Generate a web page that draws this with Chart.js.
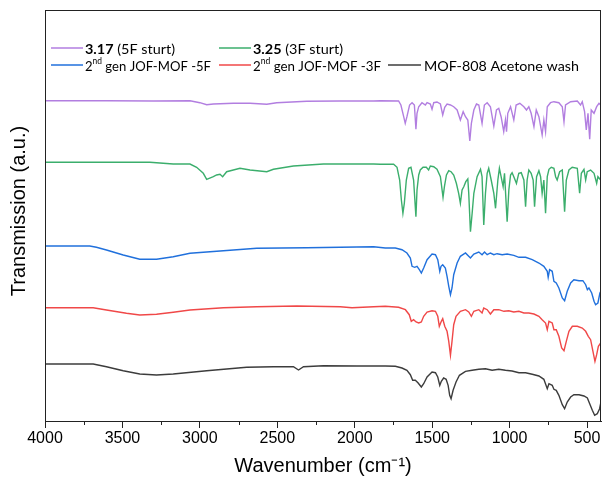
<!DOCTYPE html>
<html>
<head>
<meta charset="utf-8">
<title>FTIR spectra</title>
<script src="https://cdn.jsdelivr.net/npm/chart.js@4.4.1/dist/chart.umd.min.js"></script>
<style>
  html, body { margin: 0; padding: 0; background: #ffffff; }
  #wrap { width: 602px; height: 485px; }
</style>
</head>
<body>
<div id="wrap"><canvas id="chart" width="602" height="485"></canvas></div>
<script>
// FTIR spectra, stacked with vertical offsets (arbitrary transmission units).
// Each series is a list of [wavenumber (cm-1), transmission (a.u.)] pairs.

const spec317 = [
  [4000,320.3],[3600,320.3],[3300,320],[3064,320.3],[3000,318.3],[2956,316.3],[2913,317],[2784,317.7],
  [2676,317.7],[2568,316.7],[2504,318.3],[2310,319.7],[2100,320],[1878,320],
  [1835,320.3],[1717,320],[1702,316],[1684,304.3],[1674,297.7],[1663,304.3],[1646,316],[1630,318.3],
  [1615,316],[1605,291.7],[1598,307.7],[1587,314.3],[1566,318.3],[1544,316],[1533,318.3],[1512,317],
  [1501,311.7],[1490,318.3],[1469,319],[1447,317],[1432,306],[1419,313.7],[1404,317],[1382,316],
  [1361,314.3],[1339,311],[1318,301],[1300,309.3],[1285,304.3],[1270,301],[1257,280],[1247,297.7],
  [1231,311],[1214,317],[1199,316],[1178,297.7],[1163,316],[1145,318.3],[1124,314.3],[1102,295],
  [1085,311],[1070,312.7],[1055,304.3],[1038,289.3],[1027,301],[1020,289.3],[1012,307.7],[994,314.3],
  [973,301],[958,316],[934,317.7],[908,314.3],[891,311],[876,314.3],[861,307.7],[843,294.3],
  [828,311],[811,304.3],[790,286],[779,301],[768,289.3],[757,314.3],[736,318.3],[714,319.3],
  [682,318.3],[660,314.3],[649,299.3],[639,316],[606,319.3],[563,320],[542,316],[531,319.3],
  [516,309.3],[505,291],[494,307.7],[483,281.7],[473,311],[455,307.7],[438,314.3],[423,317.7],
  [412,316],[408,316]
];

const spec325 = [
  [4000,258.7],[3600,258.7],[3323,258.7],[3172,257],[3064,257],[3021,253.7],[2978,247.7],[2956,241.7],
  [2913,244.3],[2892,246],[2870,246.7],[2853,244.3],[2827,249.3],[2741,252.7],[2676,251],[2568,249.3],
  [2525,251.7],[2396,255],[2202,257],[1878,257],
  [1835,256.7],[1749,256.7],[1727,253.7],[1710,241],[1699,221],[1689,207.7],[1680,217.7],[1667,241],
  [1652,252.7],[1637,253.7],[1620,241],[1605,204.3],[1598,231],[1587,246],[1577,251],[1559,253.7],
  [1538,253.7],[1523,251],[1512,255],[1490,254.3],[1469,251.7],[1447,244.3],[1430,223.7],[1421,234.3],
  [1408,246],[1393,250.3],[1378,249.3],[1361,246],[1344,237.7],[1329,227.7],[1318,217.7],[1307,231],
  [1296,234.3],[1283,239.3],[1270,242],[1264,227.7],[1253,189.3],[1242,207.7],[1231,227.7],[1210,244.3],
  [1188,251.7],[1178,244.3],[1167,196],[1156,227.7],[1145,247.7],[1135,252.7],[1119,241],[1102,227.7],
  [1091,212.7],[1076,241],[1066,252.7],[1055,244.3],[1042,234.3],[1033,247.7],[1016,199.3],[1005,231],
  [994,246],[984,248.3],[973,244.3],[956,237.7],[941,247.7],[925,248.3],[908,241],[897,214.3],
  [887,241],[876,251],[861,247.7],[848,241],[839,214.3],[826,244.3],[811,250.3],[800,244.3],
  [790,227.7],[779,241],[768,207.7],[757,244.3],[746,251.7],[731,253.7],[714,252.7],[703,244.3],
  [693,241],[677,249.3],[660,251],[645,209.3],[634,241],[617,251],[596,253.7],[563,252.7],
  [548,227.7],[537,247.7],[520,251.7],[509,241],[499,249.3],[477,251],[455,247.7],[438,237.7],
  [430,244.3],[412,241],[408,241]
];

const specJof5F = [
  [4000,175],[3711,175],[3668,173.7],[3603,171],[3495,166],[3388,161.7],[3280,161.7],[3172,164.3],
  [3064,167.7],[2848,170.3],[2633,172.7],[2310,173.3],[2094,173.7],[1878,174.3],
  [1803,173],[1738,173],[1695,171.3],[1663,168],[1641,163],[1630,154.7],[1613,153.7],[1598,154.7],
  [1583,151.3],[1570,148],[1555,153],[1533,161.3],[1501,167],[1479,166.3],[1464,161.3],[1451,149.7],
  [1443,154.7],[1432,156.3],[1415,153],[1404,144.7],[1393,134.7],[1382,126.3],[1372,133],[1361,146.3],
  [1339,158],[1318,164.7],[1285,168],[1264,164.7],[1253,163],[1231,167],[1199,169],[1178,166.3],
  [1162,169],[1145,166.3],[1124,168],[1102,166.3],[1081,167.3],[1048,166.3],[1016,167],[973,165.7],
  [940,163.7],[897,163.7],[854,161.3],[811,158],[779,154.7],[757,149.7],[751,143.7],[742,151.3],
  [725,149.7],[714,139.7],[699,138],[682,133],[660,123],[645,120.3],[628,129.7],[606,138],
  [585,141.3],[552,140.3],[527,140.3],[509,136.3],[498,131.3],[488,133],[470,128],[455,119.7],
  [445,116.3],[430,118],[417,128],[406,131.3]
];

const specJof3F = [
  [4000,113.3],[3689,113.3],[3603,111],[3474,107.7],[3388,106],[3280,106.7],[3172,108.7],[3064,111],
  [2848,113.3],[2633,114.3],[2374,115],[2094,114.3],[2018,113.3],[1878,114.3],
  [1803,114.7],[1717,113.7],[1673,111.3],[1648,106.3],[1635,99.7],[1620,101.3],[1604,99],[1587,98],
  [1570,99],[1555,104.7],[1533,109],[1501,110.3],[1479,109.7],[1464,104.7],[1454,94.7],[1441,99.7],
  [1432,102.3],[1419,94.7],[1404,89.7],[1393,79.7],[1382,65.7],[1372,79.7],[1361,96.3],[1346,104.7],
  [1318,109.7],[1285,111.3],[1264,109],[1247,104.7],[1231,109.7],[1199,111.3],[1178,108],[1167,113],
  [1145,111.3],[1124,107],[1102,111.3],[1070,111.3],[1037,109.7],[1005,110.3],[973,109],[940,109.7],
  [908,108],[876,108],[843,107],[811,104.7],[790,101.3],[768,98],[757,91.3],[746,99.7],
  [725,98],[714,91.3],[699,91.3],[682,84.7],[664,73],[649,70.3],[634,79.7],[617,89.7],
  [595,94.7],[563,94.7],[531,93],[509,89.7],[492,84.7],[477,81.3],[462,69.7],[449,59.7],
  [438,66.3],[427,74.7],[412,78],[399,83]
];

const specMof808 = [
  [4000,57],[3689,57],[3603,54.3],[3495,50.3],[3388,47],[3280,46],[3172,47],[2956,50.3],
  [2698,53.7],[2525,54.3],[2396,54.3],[2363,51],[2331,54.3],[2202,55.3],[1986,55],
  [1803,55],[1738,54.7],[1695,53],[1663,50.7],[1641,46.3],[1626,40.7],[1609,40.7],[1592,38.3],
  [1570,34],[1555,37.3],[1533,44],[1501,49],[1479,48.3],[1464,44],[1451,35.7],[1441,39.7],
  [1426,43],[1410,41.7],[1397,35.7],[1387,25.7],[1378,22.3],[1365,30.7],[1346,39],[1324,45.7],
  [1285,49.7],[1242,50.7],[1199,51.7],[1156,52.3],[1113,50.7],[1070,51.7],[1027,50.7],[984,50],
  [940,48.3],[897,48.3],[854,46.7],[811,45],[779,41.7],[757,32.3],[746,37.3],[725,35.7],
  [714,31.7],[699,30.7],[682,25.7],[660,16.3],[645,12.3],[628,19],[606,24],[585,26.3],
  [552,26.3],[520,25],[498,23],[483,17.3],[466,10.7],[451,5.7],[434,7.3],[419,12.3],[406,22.3]
];

const seriesLabels = ['3.17 (5F sturt)', '3.25 (3F sturt)', '2nd gen JOF-MOF -5F', '2nd gen JOF-MOF -3F', 'MOF-808 Acetone wash'];
const seriesColors = ['#b27ee0', '#3bae6c', '#2070dc', '#f04848', '#3c3c3c'];
const majorTicks = [4000, 3500, 3000, 2500, 2000, 1500, 1000, 500];
const minorTicks = [3750, 3250, 2750, 2250, 1750, 1250, 750];

const allSpectra = [spec317, spec325, specJof5F, specJof3F, specMof808];

const FONT = "'Liberation Sans', Arial, Helvetica, sans-serif";
const LEGEND_FONT = "Lato, 'Open Sans', sans-serif";

// Frame, minor ticks, rotated y title and the two-row legend.
const decorations = {
  id: 'decorations',
  afterDraw(chart) {
    const { ctx, chartArea: a, scales: { x } } = chart;
    ctx.save();
    ctx.strokeStyle = '#222';
    ctx.lineWidth = 1;
    ctx.strokeRect(a.left + 0.5, a.top + 0.5, a.right - a.left - 1, a.bottom - a.top);
    ctx.beginPath();
    minorTicks.forEach(v => {
      const px = Math.round(x.getPixelForValue(v)) + 0.5;
      ctx.moveTo(px, a.bottom);
      ctx.lineTo(px, a.bottom + 4);
    });
    ctx.stroke();

    // y axis title
    ctx.save();
    ctx.translate(19, 211);
    ctx.rotate(-Math.PI / 2);
    ctx.fillStyle = '#000';
    ctx.font = '20px ' + FONT;
    ctx.textAlign = 'center';
    ctx.textBaseline = 'middle';
    ctx.fillText('Transmission (a.u.)', 0, 0);
    ctx.restore();

    // legend: sample swatch line, then the label (w = text box width)
    const entries = [
      { i: 0, x0: 51, x1: 83, tx: 85, y: 48, w: 90, parts: [{ t: '3.17', b: true }, { t: ' (5F sturt)' }] },
      { i: 1, x0: 219, x1: 251, tx: 253, y: 48, w: 90, parts: [{ t: '3.25', b: true }, { t: ' (3F sturt)' }] },
      { i: 2, x0: 51, x1: 83, tx: 85, y: 65, w: 126, parts: [{ t: '2' }, { t: 'nd', s: true }, { t: ' gen JOF-MOF -5F' }] },
      { i: 3, x0: 219, x1: 251, tx: 253, y: 65, w: 128, parts: [{ t: '2' }, { t: 'nd', s: true }, { t: ' gen JOF-MOF -3F' }] },
      { i: 4, x0: 388, x1: 421, tx: 424, y: 65, w: 155, parts: [{ t: 'MOF-808 Acetone wash' }] }
    ];
    const fontFor = p => p.s ? '9px ' + LEGEND_FONT : (p.b ? 'bold ' : '') + '14px ' + LEGEND_FONT;
    ctx.textBaseline = 'middle';
    ctx.textAlign = 'left';
    entries.forEach(e => {
      ctx.strokeStyle = seriesColors[e.i];
      ctx.lineWidth = 1.5;
      ctx.beginPath();
      ctx.moveTo(e.x0, e.y);
      ctx.lineTo(e.x1, e.y);
      ctx.stroke();
      let natural = 0;
      e.parts.forEach(p => { ctx.font = fontFor(p); natural += ctx.measureText(p.t).width; });
      const sx = e.w / natural;
      ctx.save();
      ctx.translate(e.tx, 0);
      ctx.scale(sx, 1);
      let tx = 0;
      ctx.fillStyle = '#000';
      e.parts.forEach(p => {
        ctx.font = fontFor(p);
        ctx.fillText(p.t, tx, p.s ? e.y - 4 : e.y + 1);
        tx += ctx.measureText(p.t).width;
      });
      ctx.restore();
    });
    ctx.restore();
  }
};

new Chart(document.getElementById('chart'), {
  type: 'line',
  data: {
    datasets: allSpectra.map((spec, i) => ({
      label: seriesLabels[i],
      data: spec.map(([w, t]) => ({ x: w, y: t })),
      borderColor: seriesColors[i],
      backgroundColor: seriesColors[i],
      borderWidth: 1.4,
      pointRadius: 0,
      tension: 0,
      fill: false
    }))
  },
  options: {
    responsive: false,
    animation: false,
    events: [],
    layout: { padding: { left: 45, right: 1, top: 10, bottom: 0 } },
    plugins: { legend: { display: false }, tooltip: { enabled: false } },
    scales: {
      x: {
        type: 'linear',
        reverse: true,
        min: 410,
        max: 4000,
        afterBuildTicks: s => { s.ticks = majorTicks.slice().sort((a, b) => a - b).map(v => ({ value: v })); },
        afterFit: s => { s.height = 64; },
        ticks: {
          color: '#000',
          font: { family: FONT, size: 16 },
          padding: 1,
          maxRotation: 0,
          autoSkip: false,
          callback: v => String(v)
        },
        grid: { display: true, drawOnChartArea: false, drawTicks: true, tickLength: 7, color: '#222', lineWidth: 1 },
        border: { display: true, color: '#222', width: 1 },
        title: {
          display: true,
          text: 'Wavenumber (cm\u207B\u00B9)',
          color: '#000',
          font: { family: FONT, size: 20 },
          padding: { top: 0, bottom: 7 }
        }
      },
      y: { display: false, min: 0, max: 411 }
    }
  },
  plugins: [decorations]
});
</script>
</body>
</html>
